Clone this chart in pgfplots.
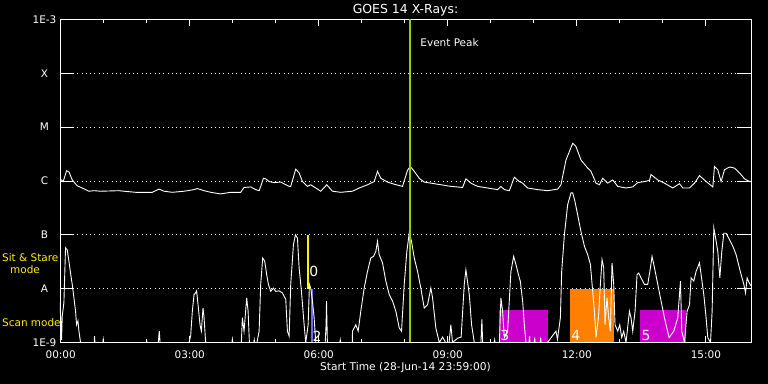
\documentclass[border=0pt]{standalone}
\usepackage{pgfplots}
\pgfplotsset{compat=1.18}
\usepackage{fontspec}
\setmainfont{DejaVu Sans}
\definecolor{peakgreen}{RGB}{154,205,0}
\definecolor{scanmag}{RGB}{204,0,204}
\definecolor{stareor}{RGB}{255,128,0}
\definecolor{bluemark}{RGB}{106,106,255}
\begin{document}
\begin{tikzpicture}
\fill[black] (0,0) rectangle (768bp,384bp);
\useasboundingbox (0,0) rectangle (768bp,384bp);
\begin{axis}[
  at={(60bp,41.5bp)}, anchor=south west,
  scale only axis, width=691bp, height=323bp,
  xmin=-0.0167, xmax=16.05, ymin=-9, ymax=-3,
  font=\fontsize{10.5}{12}\selectfont,
  axis line style={white, line width=0.9bp},
  tick align=inside,
  major tick length=14bp,
  tick style={white, line width=0.9bp},
  xtick style={/pgfplots/major tick length=6bp, /pgfplots/minor tick length=3.5bp},
  xtick={0,3,6,9,12,15},
  xticklabels={00:00,03:00,06:00,09:00,12:00,15:00},
  minor x tick num=2,
  ytick={-9,-8,-7,-6,-5,-4,-3},
  yticklabels={1E-9,A,B,C,M,X,1E-3},
  ymajorgrids,
  grid style={white, line width=0.9bp, dash pattern=on 0.9bp off 3.4bp},
  ticklabel style={text=white, font=\fontsize{10.5}{12}\selectfont},
  xticklabel style={anchor=base, yshift=-15.8bp},
  yticklabel style={anchor=center, xshift=-15.5bp},
  every axis title/.style={at={(0.5,1)}, anchor=base, yshift=5.8bp, text=white, font=\fontsize{12.5}{14}\selectfont},
  title={GOES 14 X-Rays:},
  every axis x label/.style={at={(axis description cs:0.5,0)}, anchor=base, yshift=-28.5bp, text=white, font=\fontsize{10.7}{12}\selectfont},
  xlabel={Start Time (28-Jun-14 23:59:00)},
]
% observing-mode boxes
\addplot[fill=scanmag, draw=none] coordinates {(10.18,-9) (10.18,-8.39) (11.33,-8.39) (11.33,-9)} -- cycle;
\addplot[fill=stareor, draw=none] coordinates {(11.834,-9) (11.834,-8) (12.875,-8) (12.875,-9)} -- cycle;
\addplot[fill=scanmag, draw=none] coordinates {(13.463,-9) (13.463,-8.39) (14.527,-8.39) (14.527,-9)} -- cycle;
\addplot[yellow, line width=2bp] coordinates {(5.753,-7) (5.753,-8)};
\addplot[bluemark, line width=2.5bp] coordinates {(5.84,-8) (5.84,-9)};
\node[white, anchor=base west, inner sep=0, font=\fontsize{14}{14}\selectfont] at (axis cs:5.776,-7.78) {0};
\node[white, anchor=base west, inner sep=0, font=\fontsize{14}{14}\selectfont] at (axis cs:5.85,-8.98) {2};
\node[white, anchor=base west, inner sep=0, font=\fontsize{14}{14}\selectfont] at (axis cs:10.22,-8.96) {3};
\node[white, anchor=base west, inner sep=0, font=\fontsize{14}{14}\selectfont] at (axis cs:11.87,-8.96) {4};
\node[white, anchor=base west, inner sep=0, font=\fontsize{14}{14}\selectfont] at (axis cs:13.50,-8.96) {5};
% long channel (upper)
\addplot[white, line width=0.9bp] coordinates {
(-0.0167,-5.96) (0.058,-6.01) (0.135,-5.81) (0.191,-5.83) (0.268,-5.98) (0.384,-6.09) (0.500,-6.13) (0.656,-6.19) (0.773,-6.18) (0.926,-6.19) (1.354,-6.18) (1.471,-6.19) (1.741,-6.21) (2.129,-6.21) (2.285,-6.15) (2.402,-6.19) (2.595,-6.21) (2.867,-6.19) (3.100,-6.16) (3.177,-6.14) (3.333,-6.18) (3.486,-6.21) (3.719,-6.24) (3.952,-6.21) (4.184,-6.21) (4.263,-6.12) (4.417,-6.11) (4.533,-6.16) (4.613,-6.18) (4.650,-6.10) (4.713,-5.95) (4.766,-5.96) (4.845,-6.01) (4.962,-6.03) (5.115,-6.02) (5.311,-6.10) (5.348,-6.10) (5.464,-5.78) (5.543,-5.85) (5.620,-6.01) (5.737,-6.10) (5.813,-6.07) (5.930,-6.13) (6.046,-6.19) (6.186,-6.07) (6.318,-6.19) (6.511,-6.21) (6.784,-6.19) (6.940,-6.13) (7.133,-6.07) (7.289,-6.01) (7.366,-5.82) (7.442,-5.95) (7.598,-6.02) (7.754,-6.06) (7.947,-6.10) (8.064,-5.80) (8.127,-5.73) (8.220,-5.82) (8.336,-5.95) (8.452,-6.02) (8.685,-6.05) (9.071,-6.10) (9.344,-6.12) (9.421,-5.96) (9.537,-6.04) (9.693,-6.10) (9.926,-6.13) (10.158,-6.16) (10.235,-6.10) (10.314,-6.16) (10.431,-6.18) (10.547,-5.93) (10.663,-6.01) (10.740,-6.04) (10.856,-6.13) (11.089,-6.16) (11.322,-6.18) (11.555,-6.15) (11.631,-6.07) (11.748,-5.61) (11.904,-5.30) (11.980,-5.36) (12.097,-5.61) (12.253,-5.76) (12.330,-5.82) (12.446,-6.04) (12.525,-6.07) (12.602,-5.95) (12.718,-6.04) (12.835,-5.98) (12.951,-6.10) (13.144,-6.13) (13.300,-6.11) (13.416,-6.03) (13.572,-6.01) (13.689,-5.99) (13.726,-5.88) (13.882,-5.98) (14.038,-6.04) (14.231,-6.13) (14.387,-6.05) (14.464,-6.13) (14.620,-6.13) (14.736,-6.04) (14.852,-5.90) (15.006,-6.01) (15.162,-6.11) (15.201,-5.73) (15.278,-5.79) (15.355,-6.01) (15.434,-5.79) (15.551,-5.74) (15.667,-5.76) (15.783,-5.85) (15.900,-5.96) (16.016,-6.01)
};
% short channel (lower)
\addplot[white, line width=0.9bp] coordinates {
(-0.0167,-8.26) (0.02,-8.95) (0.035,-8.51) (0.074,-8.26) (0.112,-7.24) (0.151,-7.28) (0.191,-7.49) (0.228,-7.71) (0.268,-7.92) (0.307,-8.17) (0.345,-8.42) (0.368,-8.67) (0.400,-8.60) (0.424,-8.79) (0.461,-9)
(0.78,-9) (0.787,-8.88) (0.795,-9) (0.98,-9) (0.989,-8.94) (1.0,-9) (1.99,-9) (1.997,-8.97) (2.005,-9) (2.27,-9) (2.285,-8.85) (2.292,-8.79) (2.30,-8.88) (2.31,-9)
(2.983,-9) (3.021,-8.88) (3.060,-8.42) (3.100,-8.11) (3.137,-8.08) (3.160,-8.04) (3.193,-8.30) (3.239,-8.67) (3.270,-8.79) (3.309,-8.36) (3.333,-8.54) (3.370,-9)
(3.98,-9) (3.991,-8.94) (4.0,-9) (4.20,-9) (4.224,-8.54) (4.263,-8.79) (4.324,-8.17) (4.357,-8.42) (4.387,-9) (4.49,-9) (4.50,-8.95) (4.51,-9) (4.56,-9) (4.57,-8.97)
(4.613,-8.79) (4.650,-7.92) (4.696,-7.43) (4.743,-7.49) (4.789,-7.74) (4.829,-7.92) (4.882,-8.05) (4.945,-7.99) (4.999,-8.05) (5.078,-8.04) (5.155,-8.08) (5.232,-8.20) (5.271,-8.79) (5.311,-8.88) (5.348,-7.92) (5.411,-7.18) (5.457,-7.00) (5.504,-7.06) (5.543,-7.61) (5.597,-8.05) (5.660,-8.67) (5.697,-9) (5.753,-8.67) (5.783,-7.92) (5.813,-7.99) (5.853,-8.23) (5.892,-8.54) (5.930,-9)
(6.15,-9) (6.17,-8.67) (6.18,-8.23) (6.20,-9) (6.49,-9) (6.50,-8.95) (6.51,-9) (6.78,-9) (6.784,-8.79) (6.861,-8.67) (6.916,-8.79) (6.977,-8.42) (7.056,-7.99) (7.133,-7.68) (7.210,-7.43) (7.273,-7.40) (7.326,-7.31) (7.366,-7.12) (7.405,-7.37) (7.482,-7.52) (7.559,-7.86) (7.638,-8.11) (7.715,-8.23) (7.792,-8.42) (7.871,-8.73) (7.924,-8.79) (7.987,-7.92) (8.048,-7.31) (8.103,-6.97) (8.157,-7.12) (8.220,-7.43) (8.297,-7.68) (8.373,-7.99) (8.452,-8.36) (8.529,-8.30) (8.606,-7.99) (8.646,-8.17) (8.722,-8.73) (8.802,-9) (8.88,-8.90) (8.95,-9) (9.03,-9) (9.071,-8.67) (9.11,-9) (9.23,-8.92) (9.31,-8.90) (9.383,-7.92) (9.421,-7.65) (9.500,-8.11) (9.553,-8.67) (9.616,-9)
(9.77,-9) (9.793,-8.57) (9.81,-9) (10.08,-9) (10.09,-8.95) (10.10,-9) (10.20,-9) (10.235,-8.17) (10.274,-8.42) (10.314,-8.91) (10.39,-8.79) (10.468,-7.68) (10.531,-7.40) (10.584,-7.55) (10.663,-7.80) (10.686,-7.86) (10.740,-8.23) (10.780,-8.67) (10.817,-9)
(10.89,-9) (10.90,-8.88) (10.91,-9) (11.01,-9) (11.02,-8.91) (11.03,-9) (11.15,-9) (11.16,-8.91) (11.17,-9) (11.317,-9) (11.515,-8.79) (11.55,-8.94) (11.618,-8.54) (11.648,-7.68) (11.711,-7.00) (11.787,-6.44) (11.864,-6.22) (11.904,-6.22) (11.957,-6.38) (12.020,-6.63) (12.097,-6.94) (12.176,-7.21) (12.253,-7.37) (12.316,-7.55) (12.369,-8.05) (12.409,-8.42) (12.446,-8.91) (12.502,-8.54) (12.548,-7.92) (12.586,-7.46) (12.625,-7.61) (12.655,-8.67) (12.702,-8.17) (12.741,-8.54) (12.781,-8.79) (12.818,-7.52) (12.858,-7.92) (12.888,-8.67) (12.951,-8.79) (12.998,-8.67) (13.044,-8.91) (13.09,-8.79) (13.144,-9)
(13.223,-8.42) (13.260,-8.54) (13.30,-8.79) (13.354,-8.42) (13.400,-7.74) (13.440,-7.71) (13.493,-7.80) (13.572,-7.92) (13.649,-7.92) (13.712,-7.61) (13.749,-7.40) (13.805,-7.61) (13.882,-7.92) (13.959,-8.23) (14.038,-8.54) (14.075,-8.67) (14.145,-8.91) (14.254,-8.79) (14.347,-8.54) (14.410,-7.86) (14.44,-8.79) (14.503,-9) (14.564,-8.42) (14.620,-8.30) (14.657,-7.80) (14.720,-7.86) (14.773,-7.68) (14.852,-7.52) (14.890,-7.74) (14.952,-8.11) (15.006,-8.54) (15.045,-8.91) (15.108,-9) (15.146,-8.42) (15.185,-6.87) (15.215,-7.00) (15.278,-7.31) (15.325,-7.80) (15.371,-7.31) (15.418,-6.97) (15.471,-6.97) (15.551,-7.09) (15.627,-7.21) (15.704,-7.37) (15.760,-7.55) (15.821,-7.74) (15.883,-7.92) (15.923,-8.08) (15.960,-7.80) (16.006,-7.89) (16.05,-7.95)
};
\addplot[peakgreen, line width=2bp] coordinates {(8.11,-9) (8.11,-3)};
\node[white, anchor=base west, inner sep=0, font=\fontsize{10.5}{12}\selectfont] at (axis cs:8.36,-3.51) {Event Peak};
\end{axis}
\node[text=yellow, anchor=base west, inner sep=0, font=\fontsize{10.5}{12}\selectfont] at (2bp,122bp) {Sit \& Stare};
\node[text=yellow, anchor=base, inner sep=0, font=\fontsize{10.5}{12}\selectfont] at (25bp,110bp) {mode};
\node[text=yellow, anchor=base west, inner sep=0, font=\fontsize{10.5}{12}\selectfont] at (2bp,57bp) {Scan mode};
\end{tikzpicture}
\end{document}
